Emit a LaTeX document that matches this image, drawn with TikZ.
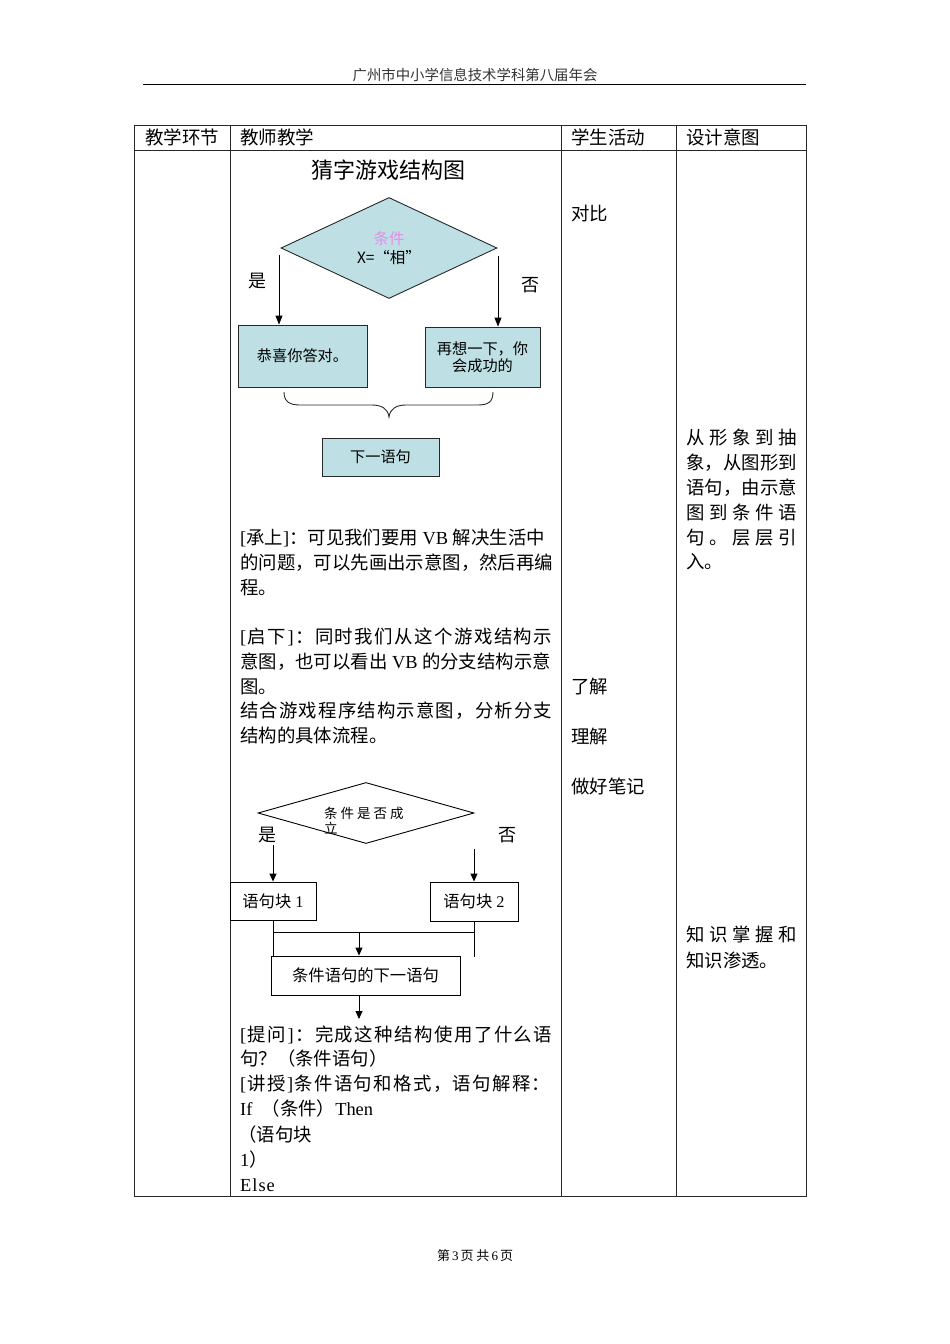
\documentclass[tikz,border=0pt]{standalone}
\usepackage{fontspec}
\setmainfont{Noto Sans CJK SC}
\newfontfamily\latf{Liberation Serif}
\newfontfamily\serf{Liberation Serif}
\usetikzlibrary{shapes.geometric,arrows.meta}
\definecolor{teal1}{RGB}{190,224,228}
\definecolor{pink1}{RGB}{228,140,232}
\definecolor{lin}{RGB}{40,40,40}
\newcommand\fsz[1]{\fontsize{#1}{#1}\selectfont}
\def\jspEnd{jsp-end-marker}
\newcommand\jsp[1]{\jspA#1\jspEnd}
\def\jspA#1{{#1}\futurelet\jnext\jspB}
\def\jspB{\ifx\jnext\jspEnd\expandafter\jgob\else\hfill\expandafter\jspA\fi}
\def\jgob#1{}
\begin{document}
\begin{tikzpicture}[x=1pt,y=-1pt,
  tbl/.style={draw=lin,line width=0.9pt},
  body/.style={anchor=base west,inner sep=0pt,font=\fsz{18.4}},
  hdr/.style={anchor=base west,inner sep=0pt,font=\fsz{18.5}},
  tbox/.style={draw=lin,line width=0.9pt,fill=teal1,inner sep=0pt,font=\fontsize{15.2}{17}\selectfont,align=center},
  wbox/.style={draw=black,line width=0.9pt,fill=white,inner sep=0pt,font=\fsz{16.3}},
  arr/.style={draw=black,line width=0.9pt,-{Triangle[length=9pt,width=7pt]}},
  lab/.style={inner sep=0pt,font=\fsz{18}}
]
\useasboundingbox (0,0) rectangle (950,1344);
% page header and footer
\node[anchor=base,inner sep=0pt,font=\fsz{14.4},text=black!80] (ph) at (475,80.5) {广州市中小学信息技术学科第八届年会};
\draw[line width=1.4pt] (143,84.5) -- (806,84.5);
\node[anchor=base,inner sep=0pt,font=\fsz{13}] (pf) at (475,1260) {第\kern2pt{\serf 3}\kern2pt 页\kern3pt 共\kern2pt{\serf 6}\kern2pt 页};
% table
\draw[tbl] (134,125) rectangle (806,1196);
\draw[tbl] (134,150) -- (806,150);
\draw[tbl] (230,125) -- (230,1196);
\draw[tbl] (561,125) -- (561,1196);
\draw[tbl] (676,125) -- (676,1196);
\node[hdr] (h1) at (145,144) {教学环节};
\node[hdr] (h2) at (240,144) {教师教学};
\node[hdr] (h3) at (571,144) {学生活动};
\node[hdr] (h4) at (686,144) {设计意图};
% diagram 1
\node[inner sep=0pt,font=\fsz{22}] (t1) at (388,170) {猜字游戏结构图};
\node[diamond,draw=lin,line width=0.9pt,fill=teal1,inner sep=0pt,minimum width=216pt,minimum height=101pt,
      align=center,font=\fontsize{15.5}{18.5}\selectfont] (d1) at (389,248) {{\color{pink1}条件}\\X=“相”};
\node[tbox,minimum width=129pt,minimum height=62pt] (b1) at (302.5,356) {\raisebox{-2pt}{恭喜你答对。}};
\node[tbox,minimum width=115pt,minimum height=60pt] (b2) at (482.5,357) {再想一下，你\\会成功的};
\node[tbox,minimum width=117pt,minimum height=38pt] (b3) at (380.5,457) {下一语句};
\coordinate (a1) at (279,255);
\coordinate (a2) at (498,256);
\draw[arr] (a1) -- (a1 |- b1.north);
\draw[arr] (a2) -- (a2 |- b2.north);
\node[lab] (y1) at (257,281) {是};
\node[lab] (n1) at (530,285) {否};
\draw[lin,line width=0.9pt] (284,392) .. controls (284,402) and (290,405) .. (300,405) -- (372,405)
  .. controls (382,405) and (388,409) .. (389,417) .. controls (390,409) and (396,405) .. (406,405)
  -- (478,405) .. controls (488,405) and (493,402) .. (493,392);
% text block 1
\node[body] (p1) at (240,544) {{\latf[}承上{\latf]}：可见我们要用{\latf\ VB\ }解决生活中};
\node[body] (p2) at (240,569) {的问题，可以先画出示意图，然后再编};
\node[body] (p3) at (240,594) {程。};
\node[body] (p4) at (240,643) {\makebox[312pt][l]{\jsp{{\latf[}启下{\latf]}：同时我们从这个游戏结构示}}};
\node[body] (p5) at (240,668) {意图，也可以看出{\latf\ VB\ }的分支结构示意};
\node[body] (p6) at (240,693) {图。};
\node[body] (p7) at (240,717) {\makebox[312pt][l]{\jsp{结合游戏程序结构示意图，分析分支}}};
\node[body] (p8) at (240,742) {结构的具体流程。};
% diagram 2
\node[diamond,draw=black,line width=0.9pt,fill=white,inner sep=0pt,minimum width=216pt,minimum height=61pt] (d2) at (366,813) {};
\node[anchor=west,inner sep=0pt,font=\fsz{13.5}] (d2t) at (324,813) {条\kern3pt 件\kern3pt 是\kern3pt 否\kern3pt 成};
\node[anchor=west,inner sep=0pt,font=\fsz{13.5}] (d2u) at (324,828) {立};
\node[lab] (y2) at (267,835) {是};
\node[lab] (n2) at (507,835) {否};
\node[wbox,minimum width=86pt,minimum height=38pt] (c1) at (273,901) {语句块{\serf\ 1}};
\node[wbox,minimum width=88pt,minimum height=39pt] (c2) at (474,901.5) {语句块{\serf\ 2}};
\node[wbox,minimum width=189pt,minimum height=39pt] (nb) at (365.5,975.5) {条件语句的下一语句};
\coordinate (l2) at (273,845);
\coordinate (r2) at (474,849);
\draw[arr,-{Triangle[length=8pt,width=7pt]}] (l2) -- (c1.north);
\draw[arr,-{Triangle[length=8pt,width=7pt]}] (r2) -- (c2.north);
\coordinate (jl) at (273,932);
\coordinate (jr) at (474,932);
\coordinate (ja) at (359,932);
\coordinate (rr) at (474,957);
\coordinate (ea) at (359,1019);
\draw[line width=0.9pt] (c1.south) -- (c1.south |- nb.north);
\draw[line width=0.9pt] (c2.south) -- (rr);
\draw[line width=0.9pt] (jl) -- (jr);
\draw[arr,-{Triangle[length=8pt,width=7pt]}] (ja) -- (ja |- nb.north);
\draw[arr,-{Triangle[length=8pt,width=7pt]}] (ja |- nb.south) -- (ea);
% text block 2
\node[body] (q1) at (240,1041) {\makebox[312pt][l]{\jsp{{\latf[}提问{\latf]}：完成这种结构使用了什么语}}};
\node[body] (q2) at (240,1065) {句？（条件语句）};
\node[body] (q3) at (240,1090) {\makebox[310pt][l]{\jsp{{\latf[}讲授{\latf]}条件语句和格式，语句解释：}}};
\node[body] (q4) at (240,1115) {{\latf If\ \ }（条件）{\latf Then}};
\node[body] (q5) at (238,1141) {（语句块};
\node[body] (q6) at (240,1166) {{\latf 1}）};
\node[body] (q7) at (240,1191) {{\latf E\kern1pt l\kern1pt s\kern1pt e}};
% student column
\node[body] (s1) at (571,220) {对比};
\node[body] (s2) at (571,693) {了解};
\node[body] (s3) at (571,743) {理解};
\node[body] (s4) at (571,793) {做好笔记};
% design column
\node[body] (g1) at (686,444) {\makebox[111pt][l]{\jsp{从形象到抽}}};
\node[body] (g2) at (686,469) {\makebox[111pt][l]{\jsp{象，从图形到}}};
\node[body] (g3) at (686,494) {\makebox[111pt][l]{\jsp{语句，由示意}}};
\node[body] (g4) at (686,519) {\makebox[111pt][l]{\jsp{图到条件语}}};
\node[body] (g5) at (686,544) {\makebox[111pt][l]{\jsp{句。层层引}}};
\node[body] (g6) at (686,568) {入。};
\node[body] (g7) at (686,941) {\makebox[111pt][l]{\jsp{知识掌握和}}};
\node[body] (g8) at (686,967) {知识渗透。};
\end{tikzpicture}
\end{document}
